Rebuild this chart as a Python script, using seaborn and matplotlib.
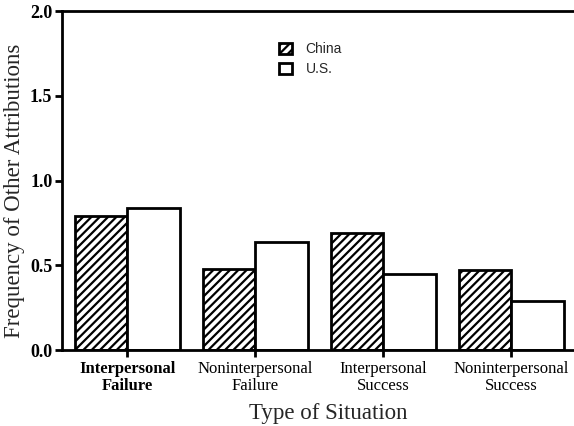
import pandas as pd
import seaborn as sns
import matplotlib
matplotlib.use("Agg")
import matplotlib.pyplot as plt
from matplotlib.patches import Patch

situations = ["Interpersonal\nFailure", "Noninterpersonal\nFailure",
              "Interpersonal\nSuccess", "Noninterpersonal\nSuccess"]
china = [0.79, 0.48, 0.69, 0.47]
us = [0.84, 0.64, 0.45, 0.29]
countries = ["China", "U.S."]
y_ticks = [0.0, 0.5, 1.0, 1.5, 2.0]


def build_frame():
    rows = []
    for s, c, u in zip(situations, china, us):
        rows.append({"situation": s, "country": "China", "freq": c})
        rows.append({"situation": s, "country": "U.S.", "freq": u})
    return pd.DataFrame(rows)


def main():
    sns.set_style("ticks")
    plt.rcParams["hatch.linewidth"] = 1.6
    df = build_frame()

    fig = plt.figure(figsize=(5.74, 4.26), dpi=100)
    ax = fig.add_axes([0.108, 0.178, 0.892, 0.796])

    sns.barplot(data=df, x="situation", y="freq", hue="country",
                palette=["white", "white"], edgecolor="black", linewidth=2,
                width=0.82, saturation=1, ax=ax, legend=False)

    for bar in ax.containers[0]:
        bar.set_hatch("////")

    ax.set_xlim(-0.51, 3.49)
    ax.set_ylim(0, 2.0)
    ax.set_yticks(y_ticks)
    ax.set_yticklabels([f"{v:.1f}" for v in y_ticks],
                       family="Liberation Serif", fontweight="bold", fontsize=13)
    ax.set_xticks(range(len(situations)))
    ax.set_xticklabels(situations, family="Liberation Serif", fontsize=12,
                       linespacing=1.05)
    ax.get_xticklabels()[0].set_fontweight("bold")

    for side in ["left", "bottom", "top"]:
        ax.spines[side].set_linewidth(2)
        ax.spines[side].set_color("black")
    ax.spines["right"].set_visible(False)
    ax.tick_params(axis="both", width=2, length=5, colors="black")
    ax.tick_params(axis="x", pad=3)
    ax.tick_params(axis="y", pad=2)

    ax.set_ylabel("Frequency of Other Attributions", family="Liberation Serif",
                  fontsize=16.5)
    ax.yaxis.set_label_coords(-0.072, 0.47)
    ax.set_xlabel("Type of Situation", family="Liberation Serif", fontsize=16.5)
    ax.xaxis.set_label_coords(0.52, -0.155)

    handles = [Patch(facecolor="white", edgecolor="black", hatch="////", linewidth=2),
               Patch(facecolor="white", edgecolor="black", linewidth=2)]
    ax.legend(handles, countries, loc="upper left", bbox_to_anchor=(0.4, 0.945),
              frameon=False, handlelength=0.9, handleheight=0.9,
              handletextpad=1.0, labelspacing=0.45,
              prop={"family": "Liberation Sans", "size": 10})

    fig.savefig("out.png", dpi=100)
    plt.close(fig)


if __name__ == "__main__":
    main()
